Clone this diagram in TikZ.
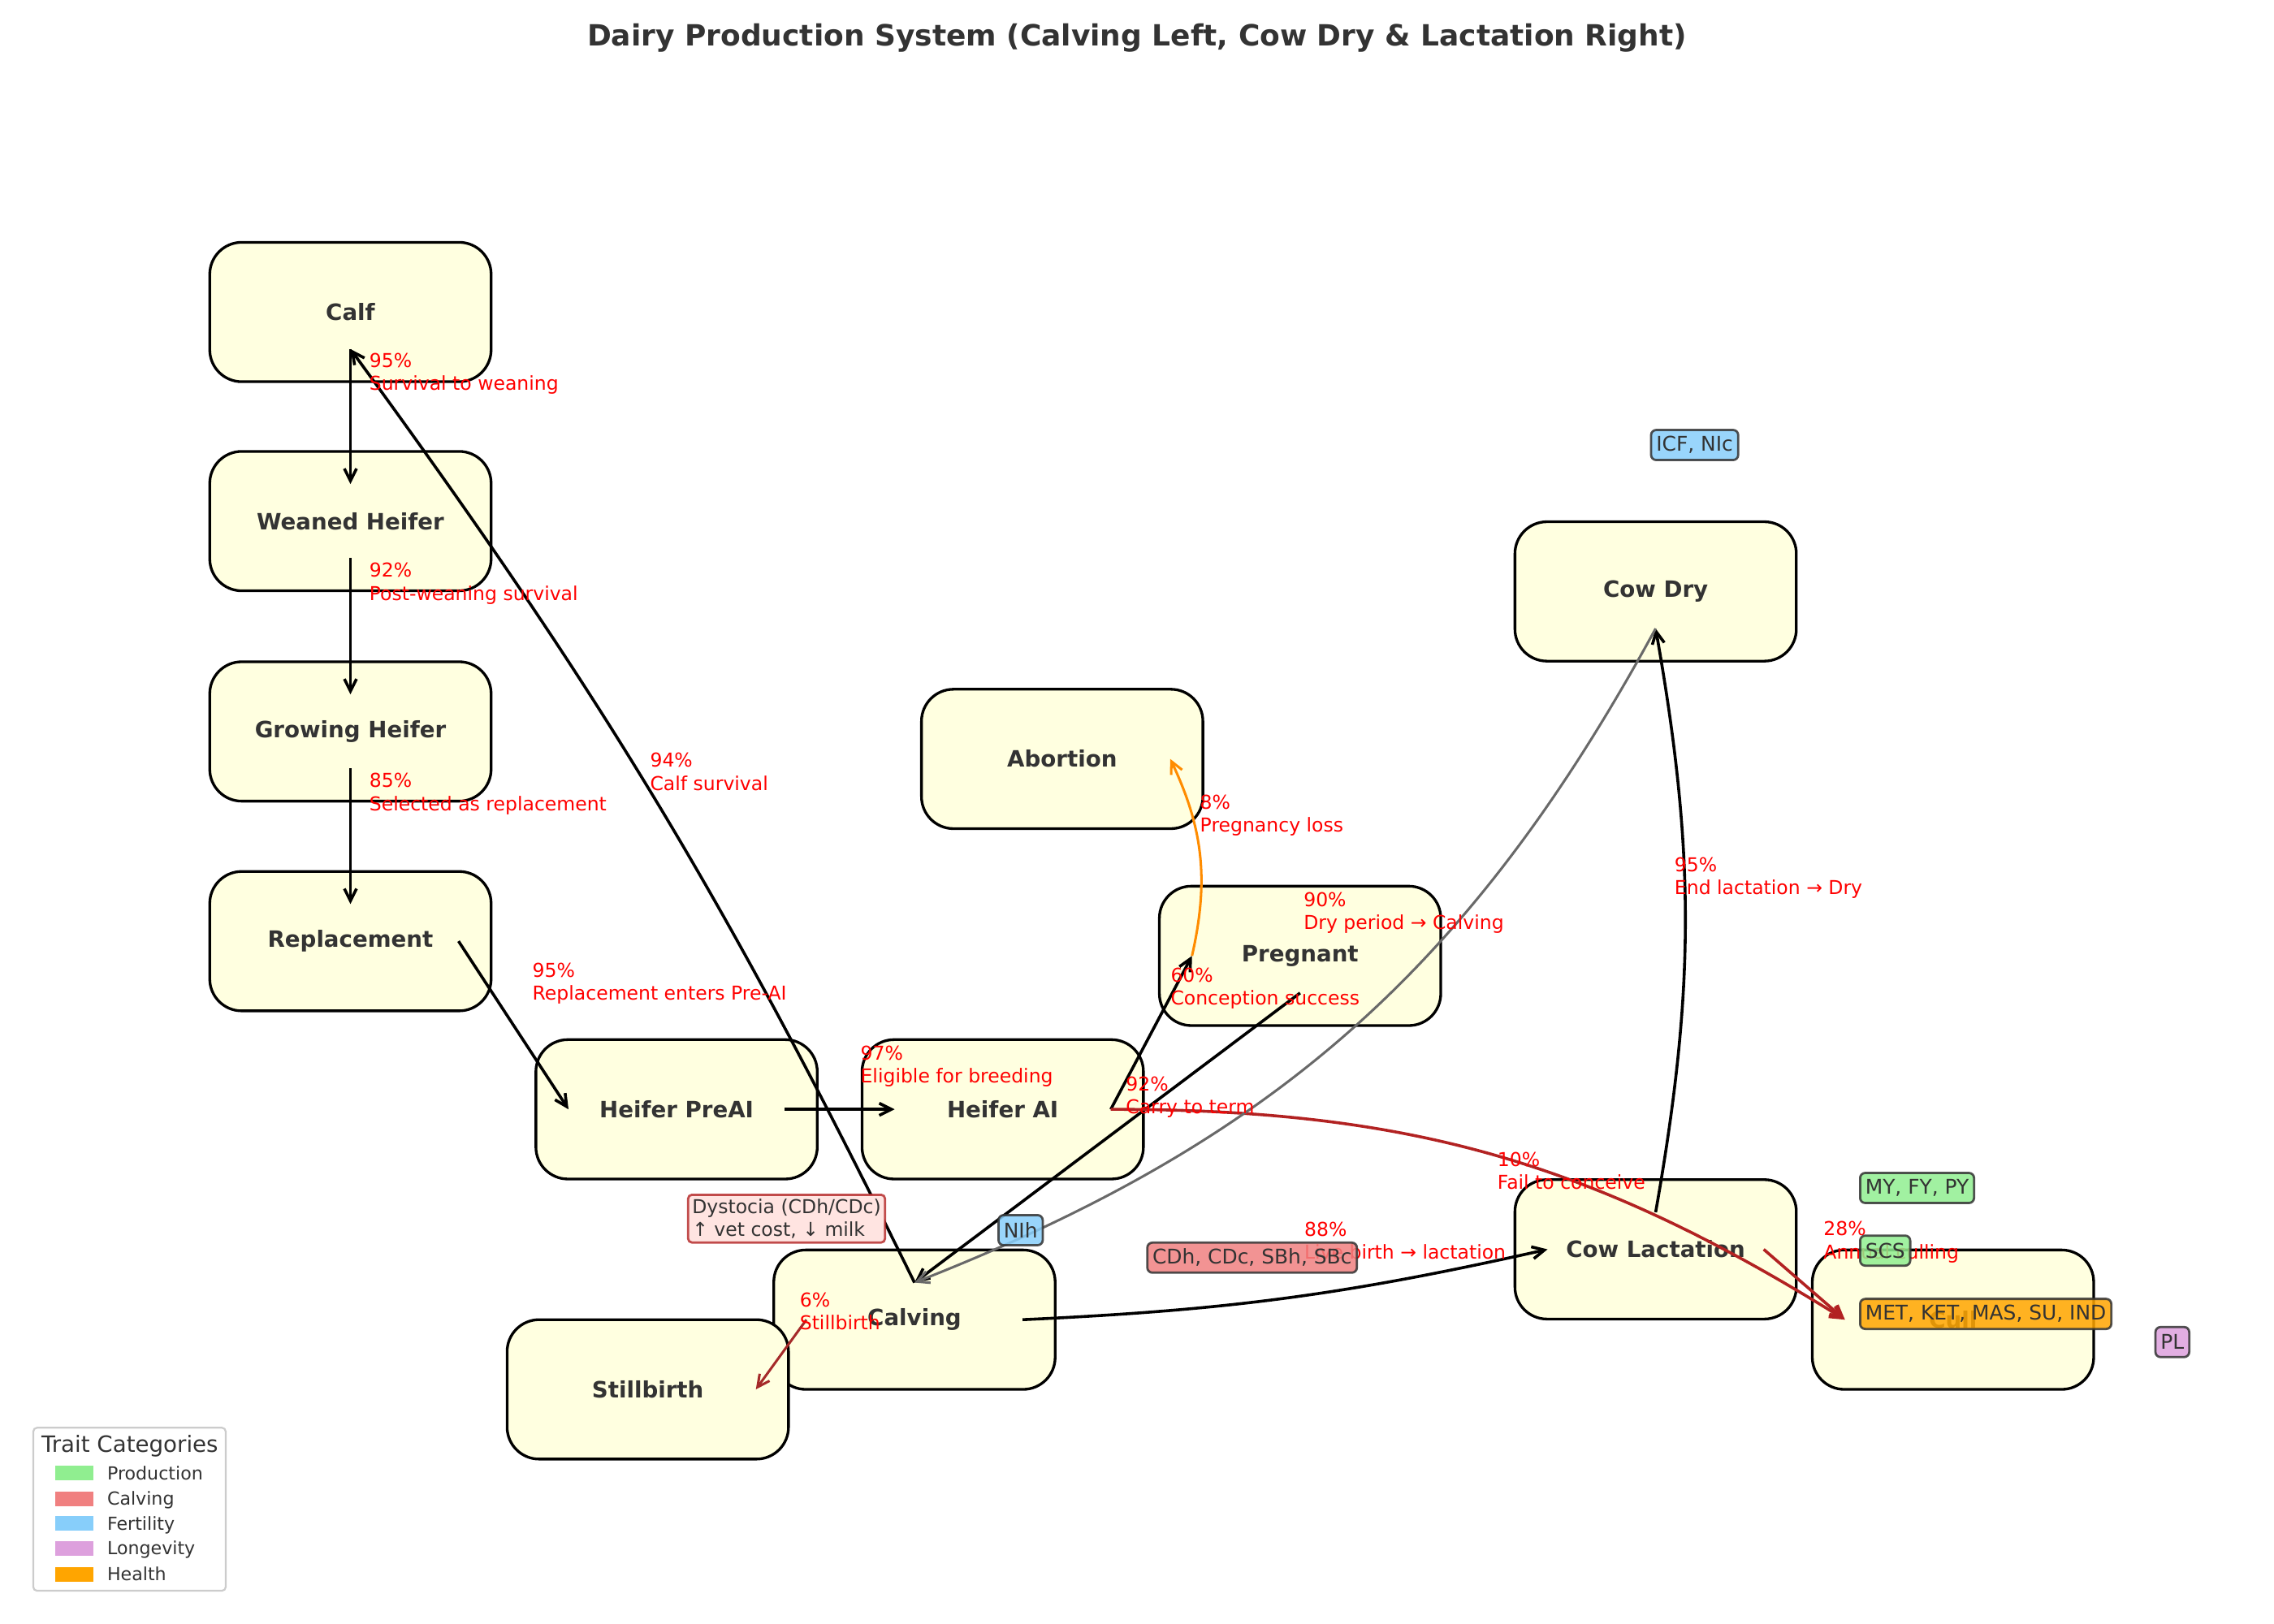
\documentclass[tikz,border=0pt]{standalone}
\usepackage{fontspec}
\setmainfont{DejaVu Sans}
\usetikzlibrary{arrows.meta,positioning}
\definecolor{boxyellow}{HTML}{FFFFE0}
\definecolor{inkgray}{HTML}{333333}
\definecolor{prodgreen}{HTML}{90EE90}
\definecolor{calvred}{HTML}{F08080}
\definecolor{fertblue}{HTML}{87CEFA}
\definecolor{longplum}{HTML}{DDA0DD}
\definecolor{healthorange}{HTML}{FFA500}
\definecolor{firebrick}{HTML}{B22222}
\definecolor{darkorange}{HTML}{FF8C00}
\definecolor{dimgray}{HTML}{696969}
\definecolor{brownred}{HTML}{A52A2A}
\definecolor{mistyrose}{HTML}{FFE4E1}

\begin{document}
\begin{tikzpicture}[
  stage/.style={draw,line width=1.2pt,fill=boxyellow,rounded corners=0.5cm,
                minimum width=4.4cm,minimum height=2.18cm,outer sep=-0.51cm,
                font=\fontsize{10}{12}\selectfont\bfseries,text=inkgray},
  flow/.style={-{Straight Barb[length=1.9mm,width=1.9mm]},line width=1.3pt},
  pct/.style={font=\fontsize{8.5}{10.2}\selectfont,text=red,align=left,
              anchor=north west,inner sep=0pt},
  trait/.style={draw=inkgray,line width=1pt,rounded corners=0.08cm,
                fill opacity=0.85,draw opacity=0.85,text opacity=1,
                font=\fontsize{9}{10.8}\selectfont,text=inkgray,
                inner xsep=2.3pt,inner ysep=0pt,minimum height=0.47cm},
  note/.style={draw=firebrick,draw opacity=0.8,line width=1pt,fill=mistyrose,
               rounded corners=0.06cm,font=\fontsize{8.5}{10.2}\selectfont,
               text=inkgray,align=left,inner sep=1.8pt},
  key/.style={minimum width=0.6cm,minimum height=0.23cm,inner sep=0pt},
  keylbl/.style={font=\fontsize{8}{9.6}\selectfont,text=inkgray,
                 anchor=base west,inner sep=0pt}
]
\useasboundingbox (0,0) rectangle (35.56,-25.4);

\node[font=\fontsize{13}{15.6}\selectfont\bfseries,text=inkgray,anchor=base]
  (title) at (17.78,-0.72)
  {Dairy Production System (Calving Left, Cow Dry \& Lactation Right)};

% ---- Heifer column ------------------------------------------
\node[stage] (calf)  at (5.48,-4.88)  {Calf};
\node[stage] (wean)  at (5.48,-8.15)  {Weaned Heifer};
\node[stage] (grow)  at (5.48,-11.44) {Growing Heifer};
\node[stage] (repl)  at (5.48,-14.72) {Replacement};

% ---- Breeding -----------------------------------------------
\node[stage] (preai) at (10.58,-17.35) {Heifer PreAI};
\node[stage] (ai)    at (15.68,-17.35) {Heifer AI};
\node[stage] (abort) at (16.61,-11.87) {Abortion};
\node[stage] (preg)  at (20.33,-14.95) {Pregnant};

% ---- Calving and cows ---------------------------------------
\node[stage] (calving) at (14.30,-20.64) {Calving};
\node[stage] (still)   at (10.13,-21.73) {Stillbirth};
\node[stage] (dry)     at (25.89,-9.25)  {Cow Dry};
\node[stage] (lact)    at (25.89,-19.54) {Cow Lactation};
\node[stage] (cull)    at (30.54,-20.64) {Cull};

% ---- Transitions --------------------------------------------
\draw[flow] (calf.south) -- (wean.north);
\draw[flow] (wean.south) -- (grow.north);
\draw[flow] (grow.south) -- (repl.north);
\draw[flow] (repl.east) -- (preai.west);
\draw[flow] (preai.east) -- (ai.west);
\draw[flow] (ai.east) -- (preg.west);
\draw[flow,darkorange,line width=1.1pt] (preg.west) to[bend right=19] (abort.east);
\draw[flow] (preg.south) -- (calving.north);
\draw[flow,firebrick] (ai.east) to[bend left=16] (cull.west);
\draw[flow] (calving.north) to[bend right=5] (calf.south);
\draw[flow,brownred,line width=1.1pt] (calving.west) -- (still.east);
\draw[flow] (calving.east) to[bend right=5] (lact.west);
\draw[flow] (lact.north) to[bend right=10] (dry.south);
\draw[flow,dimgray,line width=1.1pt] (dry.south) to[bend left=20] (calving.north);
\draw[flow,firebrick] (lact.east) -- (cull.west);

% ---- Transition rates ---------------------------------------
\node[pct] (p1)  at (5.77,-5.52)   {95\%\\Survival to weaning};
\node[pct] (p2)  at (5.77,-8.80)   {92\%\\Post-weaning survival};
\node[pct] (p3)  at (5.77,-12.09)  {85\%\\Selected as replacement};
\node[pct] (p4)  at (8.32,-15.05)  {95\%\\Replacement enters Pre-AI};
\node[pct] (p5)  at (13.45,-16.35) {97\%\\Eligible for breeding};
\node[pct] (p6)  at (18.30,-15.13) {60\%\\Conception success};
\node[pct] (p7)  at (18.76,-12.43) {8\%\\Pregnancy loss};
\node[pct] (p8)  at (17.60,-16.83) {92\%\\Carry to term};
\node[pct] (p9)  at (23.41,-18.01) {10\%\\Fail to conceive};
\node[pct] (p10) at (10.16,-11.77) {94\%\\Calf survival};
\node[pct] (p11) at (12.50,-20.21) {6\%\\Stillbirth};
\node[pct] (p12) at (20.39,-19.11) {88\%\\Live birth → lactation};
\node[pct] (p13) at (26.18,-13.40) {95\%\\End lactation → Dry};
\node[pct] (p14) at (20.38,-13.95) {90\%\\Dry period → Calving};
\node[pct] (p15) at (28.51,-19.10) {28\%\\Annual culling};

% ---- Trait tags ---------------------------------------------
\node[trait,fill=fertblue] (ticf) at (26.50,-6.96) {ICF, NIc};
\node[trait,fill=prodgreen,anchor=west] (tmy)  at (29.07,-18.58) {MY, FY, PY};
\node[trait,fill=prodgreen,anchor=west] (tscs) at (29.07,-19.56) {SCS};
\node[trait,fill=healthorange,anchor=west] (tmet) at (29.07,-20.55) {MET, KET, MAS, SU, IND};
\node[trait,fill=longplum] (tpl)  at (33.97,-20.99) {PL};
\node[trait,fill=fertblue] (tnih) at (15.96,-19.24) {NIh};
\node[trait,fill=calvred]  (tcdh) at (19.58,-19.67) {CDh, CDc, SBh, SBc};
\node[note] (dyst) at (12.30,-19.06) {Dystocia (CDh/CDc)\\↑ vet cost, ↓ milk};

% ---- Legend -------------------------------------------------
\node[draw=black!20,line width=0.8pt,rounded corners=0.06cm,fill=white,
      minimum width=3.01cm,minimum height=2.55cm] (legend) at (2.025,-23.605) {};
\node[font=\fontsize{10}{12}\selectfont,text=inkgray,anchor=base]
  (legtitle) at (2.03,-22.71) {Trait Categories};
\node[key,fill=prodgreen]    (k1) at (1.16,-23.04) {};
\node[keylbl] at (1.67,-23.14) {Production};
\node[key,fill=calvred]      (k2) at (1.16,-23.44) {};
\node[keylbl] at (1.67,-23.54) {Calving};
\node[key,fill=fertblue]     (k3) at (1.16,-23.83) {};
\node[keylbl] at (1.67,-23.93) {Fertility};
\node[key,fill=longplum]     (k4) at (1.16,-24.22) {};
\node[keylbl] at (1.67,-24.32) {Longevity};
\node[key,fill=healthorange] (k5) at (1.16,-24.62) {};
\node[keylbl] at (1.67,-24.72) {Health};

\end{tikzpicture}
\end{document}
